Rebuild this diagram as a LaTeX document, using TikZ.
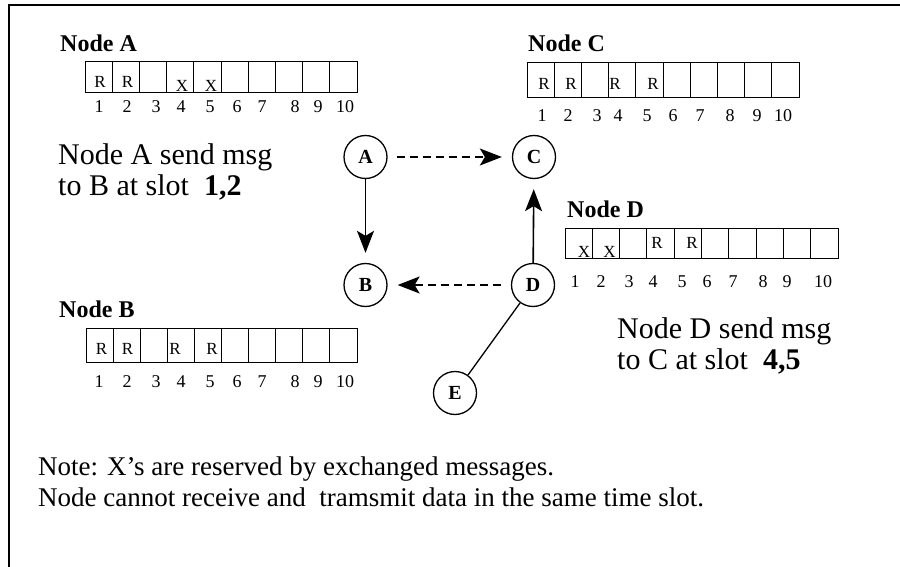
\documentclass[tikz,border=0pt]{standalone}
\usepackage{fontspec}
\setmainfont{Liberation Serif}
\usetikzlibrary{arrows.meta}
\begin{document}
\begin{tikzpicture}[x=1pt,y=-1pt,
  ttl/.style={anchor=base west,inner sep=0pt,font=\fontsize{24}{28}\selectfont\bfseries},
  cellt/.style={anchor=base,inner sep=0pt,font=\fontsize{17}{20}\selectfont},
  num/.style={anchor=base,inner sep=0pt,font=\fontsize{18}{20}\selectfont},
  body/.style={anchor=base west,inner sep=0pt,font=\fontsize{27}{30}\selectfont},
  sendt/.style={anchor=base west,inner sep=0pt,font=\fontsize{30}{32}\selectfont},
  stn/.style={circle,draw,line width=1.3pt,minimum size=43pt,inner sep=0pt,font=\fontsize{20}{22}\selectfont\bfseries},
  cellbox/.style={draw,line width=1pt},
  arr/.style={line width=1.6pt,-{Stealth[length=22pt,width=17pt,inset=5pt]}},
  dsh/.style={arr,dash pattern=on 8pt off 5pt}]
\useasboundingbox (0,0) rectangle (900,567);
\draw[line width=1.2pt] (9,567) -- (9,5) -- (900,5);

% Node A table
\node[ttl] (tA) at (60,52) {Node A};
\foreach \i in {0,...,9} \draw[cellbox] (85+\i*27.2,62) rectangle ++(27.2,31);
\node[cellt] (a1) at (100,88) {R};
\node[cellt] (a2) at (127.5,88) {R};
\node[cellt] (a4) at (182,92) {X};
\node[cellt] (a5) at (211,92) {X};
\foreach \n/\x in {1/99,2/127,3/156,4/181,5/210,6/237,7/262,8/295,9/318,10/345}
  \node[num] (na\n) at (\x,113) {\n};

% Node C table
\node[ttl] (tC) at (528,52) {Node C};
\foreach \i in {0,...,9} \draw[cellbox] (527+\i*27.2,63) rectangle ++(27.2,35);
\node[cellt] (c1) at (544,90) {R};
\node[cellt] (c2) at (571,90) {R};
\node[cellt] (c4) at (615,90) {R};
\node[cellt] (c5) at (653,90) {R};
\foreach \n/\x in {1/542,2/568,3/597,4/618,5/647,6/673,7/700,8/730,9/757,10/783}
  \node[num] (nc\n) at (\x,122) {\n};

% Node D table
\node[ttl] (tD) at (567,217) {Node D};
\foreach \i in {0,...,9} \draw[cellbox] (565+\i*27.3,228) rectangle ++(27.3,30);
\node[cellt] (d1) at (584,257) {X};
\node[cellt] (d2) at (609.5,257) {X};
\node[cellt] (d4) at (657,248) {R};
\node[cellt] (d5) at (692,248) {R};
\foreach \n/\x in {1/575,2/601,3/629,4/653,5/682,6/707,7/733,8/763,9/787,10/823}
  \node[num] (nd\n) at (\x,287) {\n};

% Node B table
\node[ttl] (tB) at (59,317) {Node B};
\foreach \i in {0,...,9} \draw[cellbox] (86+\i*27.1,328) rectangle ++(27.1,34);
\node[cellt] (b1) at (101.5,354) {R};
\node[cellt] (b2) at (127.5,354) {R};
\node[cellt] (b4) at (175,354) {R};
\node[cellt] (b5) at (212,354) {R};
\foreach \n/\x in {1/99,2/127,3/156,4/181,5/210,6/237,7/262,8/295,9/318,10/345}
  \node[num] (nb\n) at (\x,387) {\n};

% graph
\node[stn] (A) at (365.5,157) {A};
\node[stn] (C) at (534,157) {C};
\node[stn] (B) at (365.5,285) {B};
\node[stn] (D) at (533,285) {D};
\node[stn] (E) at (455,393) {E};
\draw[arr,shorten >=10pt] (A) -- (B);
\draw[arr,shorten >=10pt] (D) -- (C);
\draw[dsh,shorten >=10pt,shorten <=9pt] (A) -- (C);
\draw[dsh,shorten >=10pt,shorten <=10pt] (D) -- (B);
\draw[line width=1.3pt] (D) -- (E);

% texts
\node[sendt] (sa1) at (58,165) {Node A send msg};
\node[sendt] (sa2) at (58,196) {to B at slot\ \ \textbf{1,2}};
\node[sendt] (sd1) at (617,338) {Node D send msg};
\node[sendt] (sd2) at (617,369) {to C at slot\ \ \textbf{4,5}};
\node[body] (n1) at (38,475) {Note: X’s are reserved by exchanged messages.};
\node[body] (n2) at (38,506) {Node cannot receive and\ \ tramsmit data in the same time slot.};
\end{tikzpicture}
\end{document}
